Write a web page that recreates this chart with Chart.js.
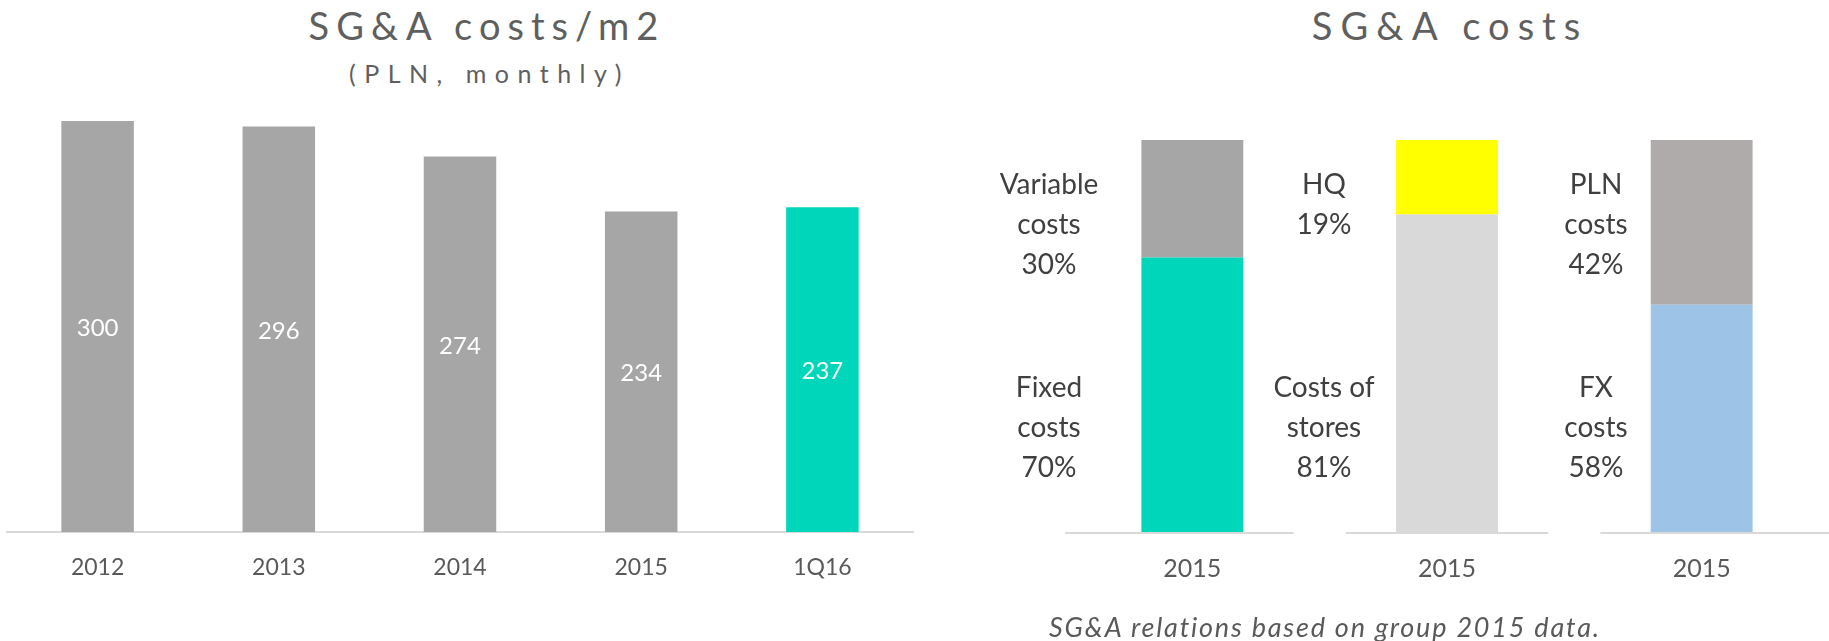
<!DOCTYPE html>
<html>
<head>
<meta charset="utf-8">
<script src="https://cdn.jsdelivr.net/npm/chart.js@4.4.1/dist/chart.umd.min.js"></script>
<style>
  html, body { margin: 0; padding: 0; background: #fff; }
  body { width: 1829px; height: 641px; position: relative; overflow: hidden; font-family: Lato, 'Open Sans', sans-serif; }
  .box { position: absolute; top: 0; height: 641px; }
  .title { position: absolute; text-align: center; color: #5f5f5f; font-weight: 400; white-space: nowrap; }
  .main { font-size: 38px; line-height: 38px; }
  .sub { font-size: 25px; line-height: 25px; letter-spacing: 8.5px; padding-left: 8.5px; }
  .seg { position: absolute; width: 200px; text-align: center; color: #404040; font-size: 28px; line-height: 40px; }
  .note { position: absolute; color: #595959; font-size: 27px; line-height: 30px; font-style: italic; white-space: nowrap; letter-spacing: 1.8px; }
</style>
</head>
<body>
<div class="title main" style="left:0; width:960px; top:6px; letter-spacing:7px; padding-left:7px;">SG&amp;A costs/m2</div>
<div class="title sub" style="left:0; width:962px; top:61px;">(PLN, monthly)</div>
<div class="title main" style="left:1142px; width:600px; top:6px; letter-spacing:8px; padding-left:8px;">SG&amp;A costs</div>

<div class="box" style="left:0; width:920px;"><canvas id="left-chart"></canvas></div>
<div class="box" style="left:920px; width:909px;"><canvas id="right-chart"></canvas></div>

<div class="note" style="left:1049px; top:612px;">SG&amp;A relations based on group 2015 data.</div>

<script>
// SG&A costs per m2 (PLN, monthly)
const periods = ['2012', '2013', '2014', '2015', '1Q16'];
const costsPerM2 = [300, 296, 274, 234, 237];

// SG&A cost structure, 2015 (%)
const structureLabels = ['2015', '2015', '2015'];
const lowerShares = [70, 81, 58];
const upperShares = [30, 19, 42];
const upperNames = [['Variable', 'costs', '30%'], ['HQ', '19%'], ['PLN', 'costs', '42%']];
const lowerNames = [['Fixed', 'costs', '70%'], ['Costs of', 'stores', '81%'], ['FX', 'costs', '58%']];

const GREY = '#a6a6a6';
const TEAL = '#00d6b9';
const AXIS = '#d9d9d9';
const TEXT = '#595959';

// segment name blocks, centre x of each block
const nameCentersX = [1049, 1324, 1596];

function addNames(names, top) {
  names.forEach((lines, i) => {
    const el = document.createElement('div');
    el.className = 'seg';
    el.style.left = (nameCentersX[i] - 100) + 'px';
    el.style.top = top + 'px';
    el.innerHTML = lines.join('<br>');
    document.body.appendChild(el);
  });
}
addNames(upperNames, 163);
addNames(lowerNames, 366);

// values in the middle of each bar
const barValuesPlugin = {
  id: 'barValues',
  afterDatasetsDraw(chart) {
    const ctx = chart.ctx;
    const meta = chart.getDatasetMeta(0);
    ctx.save();
    ctx.fillStyle = '#ffffff';
    ctx.font = '24px Lato';
    ctx.textAlign = 'center';
    ctx.textBaseline = 'middle';
    meta.data.forEach((bar, i) => {
      ctx.fillText(String(costsPerM2[i]), bar.x, (bar.y + bar.base) / 2 + 2);
    });
    ctx.restore();
  }
};

// broken baseline under each stacked bar
const baseSegmentsPlugin = {
  id: 'baseSegments',
  afterDatasetsDraw(chart) {
    const ctx = chart.ctx;
    const x = chart.scales.x;
    const y = chart.scales.y.getPixelForValue(0) + 1;
    const n = structureLabels.length;
    const half = (chart.chartArea.right - chart.chartArea.left) / n / 2;
    const gap = 26;
    ctx.save();
    ctx.strokeStyle = AXIS;
    ctx.lineWidth = 2;
    for (let i = 0; i < n; i++) {
      const c = x.getPixelForValue(i);
      const l = i === 0 ? chart.chartArea.left : c - half + gap;
      const r = i === n - 1 ? chart.chartArea.right : c + half - gap;
      ctx.beginPath();
      ctx.moveTo(l, y);
      ctx.lineTo(r, y);
      ctx.stroke();
    }
    ctx.restore();
  }
};

function fixedAxisHeight(h) {
  return function(scale) { scale.height = h; };
}

new Chart(document.getElementById('left-chart'), {
  type: 'bar',
  data: {
    labels: periods,
    datasets: [{
      data: costsPerM2,
      backgroundColor: [GREY, GREY, GREY, GREY, TEAL],
      categoryPercentage: 1,
      barPercentage: 0.4
    }]
  },
  options: {
    responsive: true,
    maintainAspectRatio: false,
    animation: false,
    layout: { padding: { left: 7, right: 7, top: 121, bottom: 0 } },
    plugins: { legend: { display: false }, tooltip: { enabled: false } },
    scales: {
      y: { display: false, min: 0, max: 300 },
      x: {
        grid: { display: false, drawTicks: false },
        border: { display: true, color: AXIS, width: 2 },
        ticks: { color: TEXT, font: { family: 'Lato', size: 23 }, padding: 22 },
        afterFit: fixedAxisHeight(109)
      }
    }
  },
  plugins: [barValuesPlugin]
});

new Chart(document.getElementById('right-chart'), {
  type: 'bar',
  data: {
    labels: structureLabels,
    datasets: [{
      data: lowerShares,
      backgroundColor: [TEAL, '#d9d9d9', '#9dc3e6'],
      categoryPercentage: 1,
      barPercentage: 0.4
    }, {
      data: upperShares,
      backgroundColor: [GREY, '#ffff00', '#afabab'],
      categoryPercentage: 1,
      barPercentage: 0.4
    }]
  },
  options: {
    responsive: true,
    maintainAspectRatio: false,
    animation: false,
    layout: { padding: { left: 145, right: 0, top: 140, bottom: 0 } },
    plugins: { legend: { display: false }, tooltip: { enabled: false } },
    scales: {
      y: { display: false, stacked: true, min: 0, max: 100 },
      x: {
        stacked: true,
        grid: { display: false, drawTicks: false },
        border: { display: false },
        ticks: { color: TEXT, font: { family: 'Lato', size: 25 }, padding: 22 },
        afterFit: fixedAxisHeight(109)
      }
    }
  },
  plugins: [baseSegmentsPlugin]
});
</script>
</body>
</html>
